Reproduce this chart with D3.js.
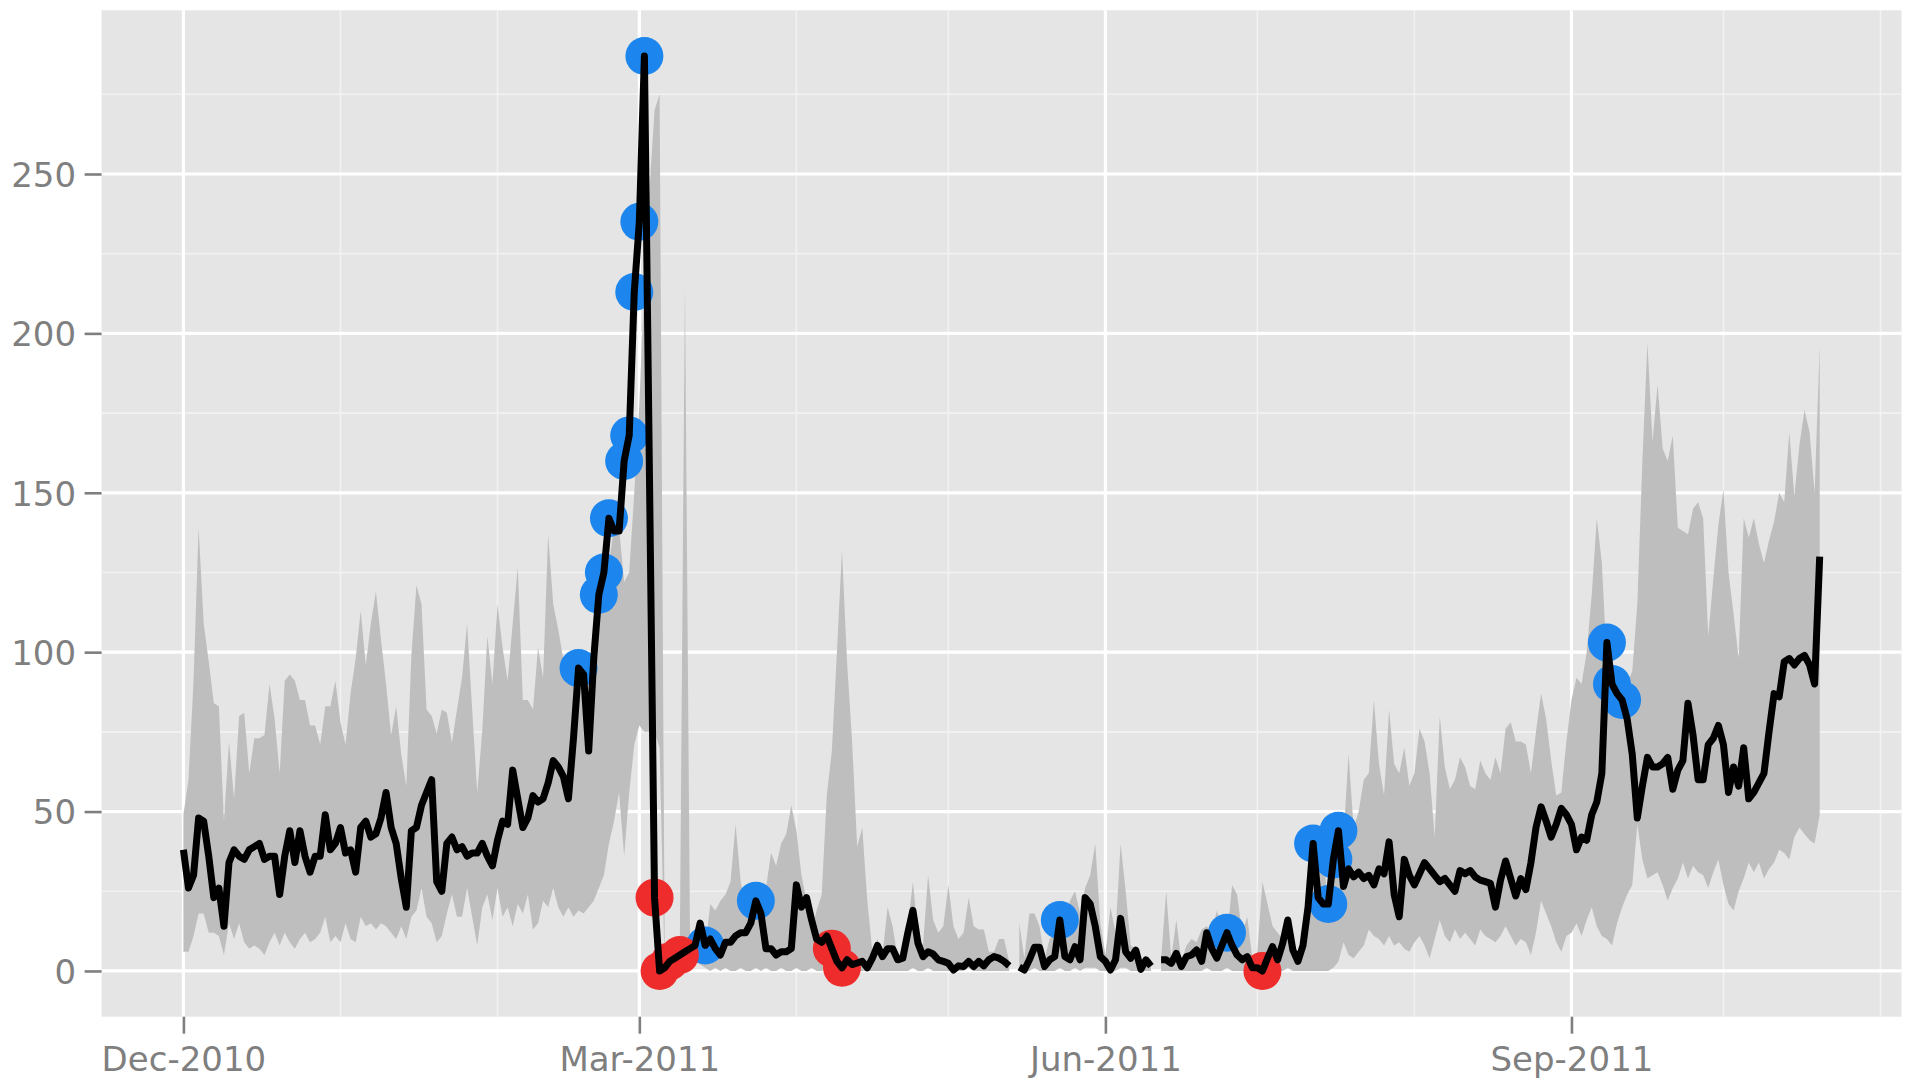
<!DOCTYPE html>
<html><head><meta charset="utf-8">
<script src="https://cdn.jsdelivr.net/npm/d3@7"></script>
<style>body{margin:0;background:#fff} svg{display:block}</style>
</head><body><svg id="c" width="1908" height="1083"></svg>
<script>
// ---- data (one value per day, starting at startDate) ----
const startDate = "2010-12-01";
const lineValues = [38,26,30,48,47,36,23,26,14,34,
 38,36,35,38,39,40,35,36,36,24,
 36,44,34,44,36,31,36,36,49,38,
 40,45,37,38,31,45,47,42,43,48,
 56,45,40,29,20,44,45,52,56,60,
 28,25,40,42,38,39,36,37,37,40,
 36,33,41,47,46,63,54,45,48,55,
 53,54,59,66,64,61,54,73,95,93,
 69,98,118,125,142,138,138,160,168,213,
 235,287,155,23,0,1,3,4,5,6,
 7,8,15,8,10,7,5,9,9,11,
 12,12,15,22,18,7,7,5,6,6,
 7,27,20,23,16,10,9,11,7,3,
 1,3.5,2,2.5,3,1,4,8,4.5,7,
 7,3.5,4,12,19,8.7,4.5,6,5.3,3.5,
 3,2.4,0.3,1.6,1.4,3,1.4,3,1.6,3.5,
 4.5,4,3,1.6,null,1.2,0.3,3.5,7.4,7.4,
 1.4,3.5,4.5,16,4.5,3.5,7.6,3.5,23,21,
 14,4.5,3,0.3,3.5,16.5,6,4,6.5,0.5,
 3.5,1.5,null,3.5,3.5,2.4,5.5,1.4,4.5,5,
 6.6,3,12,7,4,8,12,8,5,3.5,
 4.5,1,1,0,4,7.6,3.5,8.7,16,6.6,
 3,8,20,40,23,21,21,35,44,26.5,
 32,29.5,31,29,30,27,32,30.5,40.5,24,
 17,35,30,27,30.5,34,32,30,28,29,
 27,25,31.5,30.5,31.5,29.5,28.5,28,27.5,20,
 28.5,34.5,29,23.5,29,25.5,34,45,51.5,47,
 42,46,51,49,46,38,42,41,49,53,
 62,103,90,87,85,79,68,48,58,67,
 64,64,65,67,57,63,66,84,74,60,
 60,71,73,77,71,56,64,58,70,54,
 56,59,62,75,87,86,97,98,96,98,
 99,96,90,130];
const upperValues = [49,60,91,139,109,97,84,83,47,72,
 54,80,81,62,73,73,74,90,79,62,
 91,93,91,85,85,77,77,71,83,83,
 91,78,71,87,98,113,96,109,119,104,
 90,74,83,68,58,99,121,115,82,80,
 74.5,82,81,71.6,82,92,109,82,56,75.5,
 105,90,115,101.5,91,109,126.6,85,85,82,
 101.5,92,137,115,107,97.7,95.8,99.6,88,92,
 90,103,113,121,128,139,139,122,125,150,
 178,216,245,270,275,8,8,9,10,215,
 10,12,16,7,21,19,22,24,28,46,
 28,20,18,21,21,26,37,33,40,43,
 52,44,30,22,13,19,24,55,69,100,
 132,97,72,39,45,22,6,10,5,20,
 14,4,6,14,28,12,8,30,16,12,
 14,27,14,10,12,23,14,13,13,6,
 6,10,10,3,null,15,4,18,18,14,
 4,10,12,14,16,22,25,18,26,30,
 40,15,5,20,12,40,25,8,7,3,
 4,3,null,4,25,4,16,3,8,10,
 9,13,14,12,19,13,10,27,24,12,
 17,4,6,28,21,14,12,10,17,8,
 5,12,25,32,35,38,19,30,38,42,
 68,45,50,60,62,85,65,55,82,65,
 62,70,58,62,76,72,62,42,80,64,
 57,60,67,64,58,57,66,62,60,67,
 62,76,78,72,72,71,62,75,87,79,
 66,55,56,72,85,92,90,100,118,142,
 128,96,88,90,82,90,94,115,160,197,
 166,184,164,160,168,139,138,137,145,147,
 142,105,123,140,151,125,112,98,142,136,
 142,134,128,135,141,150,147,169,149,165,
 176,169,150,196];
const lowerValues = [6,6,11,18,18,12,12,11,5,15,
 10,15,9,7,8,7,5,9,12,8,
 12,9,7,10,12,9,10,12,17,9,
 11,9,15,10,9,17,14,15,13,15,
 14,12,10,14,10,17,19,26,17,15,
 9,11,18,24,17,17,26,17,8,20,
 24,16,26,17,20,14,21,18,24,13,
 15,22,20,26,20,17,20,17,19,18,
 20,22,26,30,40,47,56,36,56,71,
 77,75,75,75,70,0.5,4,3,6,4,
 3,3,2,1,0,1,0,1,0,0,
 1,0,0,1,0,1,0,0,1,0,
 0,1,0,0,1,0,0,1,8,2,
 2,1,0,0,0,0,0,0,0,0,
 0,0,0,0,1,0,0,1,0,0,
 0,0,0,0,0,1,0,0,0,0,
 0,0,0,0,null,0,0,0,1,0,
 0,0,0,1,0,0,1,0,1,1,
 1,0,0,0,0,1,1,0,0,0,
 0,0,null,0,0,0,0,0,0,0,
 0,0,1,0,0,0,1,0,0,0,
 0,0,0,1,0,0,0,0,1,0,
 0,0,0,0,0,0,0,1,3,9,
 5,4,6,8,13,11,10,8,11,8,
 9,7,6,9,11,8,4,10,16,11,
 9,13,10,12,10,8,13,11,10,9,
 11,14,11,8,10,9,5,12,22,18,
 14,9,6,11,12,15,11,16,20,14,
 11,10,8,15,20,24,27,46,35,29,
 30,31,27,22,26,29,34,29,33,31,
 30,26,31,35,27,21,19,25,29,34,
 31,34,29,32,34,38,37,35,42,45,
 43,41,40,49];
// day indices flagged above (blue) / below (red)
const highDays = [78,82,83,84,87,88,89,90,91,103,113,173,206,223,226,227,228,281,282,284];
const lowDays = [93,94,96,98,128,130,213];

const yTicks = [0,50,100,150,200,250];
const yMinorTicks = [25,75,125,175,225,275];
const xTickDates = ["2010-12-01","2011-03-01","2011-06-01","2011-09-01"];
const xTickLabels = ["Dec-2010","Mar-2011","Jun-2011","Sep-2011"];
const xMinorDates = ["2011-01-01","2011-02-01","2011-04-01","2011-05-01","2011-07-01","2011-08-01","2011-10-01","2011-11-01"];

// ---- layout ----
const panel = {left:101.6, right:1901.5, top:10.3, bottom:1016.7};
const textColor = "#7f7f7f";
const font = "'DejaVu Sans', sans-serif";

const parse = d3.utcParse("%Y-%m-%d");
const t0 = parse(startDate);
const dates = lineValues.map((_, i) => d3.utcDay.offset(t0, i));
const idx = d3.range(lineValues.length);

const xExt = d3.extent(dates);
const xPad = (xExt[1] - xExt[0]) * 0.05;
const x = d3.scaleUtc().domain([new Date(+xExt[0] - xPad), new Date(+xExt[1] + xPad)])
  .range([panel.left, panel.right]);
const allY = [...lineValues, ...upperValues, ...lowerValues].filter(v => v != null);
const yMin = d3.min(allY), yMax = d3.max(allY);
const yPad = (yMax - yMin) * 0.05;
const y = d3.scaleLinear().domain([yMin - yPad, yMax + yPad]).range([panel.bottom, panel.top]);

const svg = d3.select("#c");
svg.append("rect").attr("width", 1908).attr("height", 1083).attr("fill", "#fff");
svg.append("rect").attr("x", panel.left).attr("y", panel.top)
  .attr("width", panel.right - panel.left).attr("height", panel.bottom - panel.top)
  .attr("fill", "#e5e5e5");

const grid = svg.append("g");
// minor grid
grid.selectAll(".hm").data(yMinorTicks).join("line")
  .attr("x1", panel.left).attr("x2", panel.right)
  .attr("y1", d => y(d)).attr("y2", d => y(d))
  .attr("stroke", "#f2f2f2").attr("stroke-width", 1.6);
grid.selectAll(".vm").data(xMinorDates.map(parse)).join("line")
  .attr("y1", panel.top).attr("y2", panel.bottom)
  .attr("x1", d => x(d)).attr("x2", d => x(d))
  .attr("stroke", "#f2f2f2").attr("stroke-width", 1.6);
// major grid
grid.selectAll(".hM").data(yTicks).join("line")
  .attr("x1", panel.left).attr("x2", panel.right)
  .attr("y1", d => y(d)).attr("y2", d => y(d))
  .attr("stroke", "#fff").attr("stroke-width", 3.2);
grid.selectAll(".vM").data(xTickDates.map(parse)).join("line")
  .attr("y1", panel.top).attr("y2", panel.bottom)
  .attr("x1", d => x(d)).attr("x2", d => x(d))
  .attr("stroke", "#fff").attr("stroke-width", 3.2);

// ribbon
const area = d3.area()
  .defined(i => upperValues[i] != null && lowerValues[i] != null)
  .x(i => x(dates[i])).y0(i => y(lowerValues[i])).y1(i => y(upperValues[i]));
svg.append("path").datum(idx).attr("d", area).attr("fill", "#bebebe");

// points
const r = 19;
svg.append("g").selectAll("circle").data(highDays).join("circle")
  .attr("cx", i => x(dates[i])).attr("cy", i => y(lineValues[i])).attr("r", r)
  .attr("fill", "#1c86ee");
svg.append("g").selectAll("circle").data(lowDays).join("circle")
  .attr("cx", i => x(dates[i])).attr("cy", i => y(lineValues[i])).attr("r", r)
  .attr("fill", "#ee2c2c");

// line
const line = d3.line().defined(i => lineValues[i] != null)
  .x(i => x(dates[i])).y(i => y(lineValues[i]));
svg.append("path").datum(idx).attr("d", line)
  .attr("fill", "none").attr("stroke", "#000").attr("stroke-width", 7)
  .attr("stroke-linejoin", "round").attr("stroke-linecap", "butt");

// axes
const xAxis = d3.axisBottom(x).tickValues(xTickDates.map(parse))
  .tickFormat((d, i) => xTickLabels[i]).tickSize(17).tickPadding(13);
const gx = svg.append("g").attr("transform", `translate(0,${panel.bottom})`).call(xAxis);
const yAxis = d3.axisLeft(y).tickValues(yTicks).tickFormat(d3.format("d")).tickSize(17).tickPadding(8.5);
const gy = svg.append("g").attr("transform", `translate(${panel.left},0)`).call(yAxis);
[gx, gy].forEach(g => {
  g.select(".domain").remove();
  g.selectAll(".tick line").attr("stroke", textColor).attr("stroke-width", 2.6);
  g.selectAll(".tick text").attr("fill", textColor).style("font-family", font).style("font-size", "34px");
});
gy.selectAll(".tick text").attr("dy", "0.36em");
</script>
</body></html>
